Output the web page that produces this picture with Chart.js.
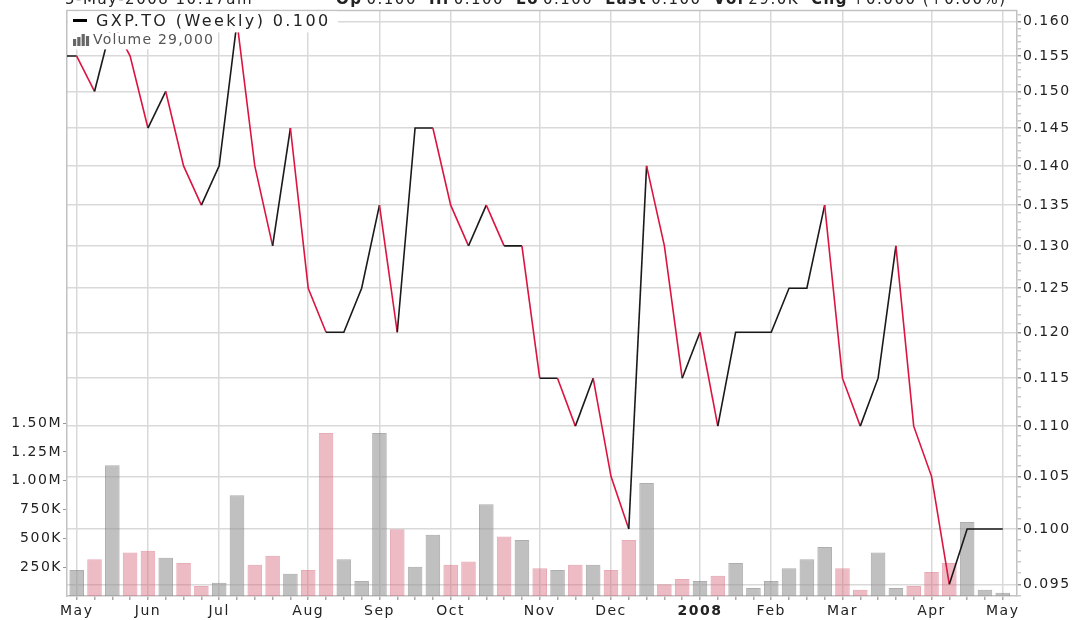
<!DOCTYPE html>
<html>
<head>
<meta charset="utf-8">
<script src="https://cdn.jsdelivr.net/npm/chart.js@4.4.1/dist/chart.umd.min.js"></script>
<style>
html, body { margin: 0; padding: 0; background: #fff; }
</style>
</head>
<body>
<canvas id="GXP" width="1073" height="620"></canvas>
<script>
// weekly bars, GXP.TO, May 2007 - May 2008
var weeks = [
  '2007-05-07','2007-05-14','2007-05-21','2007-05-28','2007-06-04','2007-06-11','2007-06-18','2007-06-25',
  '2007-07-02','2007-07-09','2007-07-16','2007-07-23','2007-07-30','2007-08-06','2007-08-13','2007-08-20',
  '2007-08-27','2007-09-03','2007-09-10','2007-09-17','2007-09-24','2007-10-01','2007-10-08','2007-10-15',
  '2007-10-22','2007-10-29','2007-11-05','2007-11-12','2007-11-19','2007-11-26','2007-12-03','2007-12-10',
  '2007-12-17','2007-12-24','2007-12-31','2008-01-07','2008-01-14','2008-01-21','2008-01-28','2008-02-04',
  '2008-02-11','2008-02-18','2008-02-25','2008-03-03','2008-03-10','2008-03-17','2008-03-24','2008-03-31',
  '2008-04-07','2008-04-14','2008-04-21','2008-04-28','2008-05-05'
];
var closes = [
  0.155, 0.150, 0.160, 0.155, 0.145, 0.150, 0.140, 0.135, 0.140, 0.160,
  0.140, 0.130, 0.145, 0.125, 0.120, 0.120, 0.125, 0.135, 0.120, 0.145,
  0.145, 0.135, 0.130, 0.135, 0.130, 0.130, 0.115, 0.115, 0.110, 0.115,
  0.105, 0.100, 0.140, 0.130, 0.115, 0.120, 0.110, 0.120, 0.120, 0.120,
  0.125, 0.125, 0.135, 0.115, 0.110, 0.115, 0.130, 0.110, 0.105, 0.095,
  0.100, 0.100, 0.100
];
var volumes = [
  225000, 318000, 1134000, 378000, 392000, 332000, 286000, 87000, 115000, 874000,
  271000, 349000, 193000, 225000, 1414000, 318000, 130000, 1414000, 580000, 254000,
  531000, 271000, 300000, 797000, 517000, 485000, 240000, 225000, 271000, 271000,
  225000, 485000, 981000, 101000, 147000, 130000, 176000, 286000, 69000, 130000,
  240000, 318000, 424000, 240000, 55000, 378000, 69000, 87000, 208000, 286000,
  641000, 55000, 29000
];
var priorClose = 0.155;

var monthLabels = ['May','Jun','Jul','Aug','Sep','Oct','Nov','Dec','2008','Feb','Mar','Apr','May'];
var priceTicks = [0.095,0.100,0.105,0.110,0.115,0.120,0.125,0.130,0.135,0.140,0.145,0.150,0.155,0.160];
var volTicks = [250000, 500000, 750000, 1000000, 1250000, 1500000];
var volTickLabels = ['250K','500K','750K','1.00M','1.25M','1.50M'];

var header = '5-May-2008 10:17am';
var quote = [['Op','0.100'],['Hi','0.100'],['Lo','0.100'],['Last','0.100'],['Vol','29.0K'],['Chg','+0.000 (+0.00%)']];
var legendPrice = 'GXP.TO (Weekly) 0.100';
var legendVol = 'Volume 29,000';

// first week of each month gets a label
var monthAt = {};
var m = 0;
weeks.forEach(function(w, i) {
  if (i === 0 || w.slice(0, 7) !== weeks[i - 1].slice(0, 7)) {
    monthAt[i] = monthLabels[m];
    m++;
  }
});

var gridColor = '#d9d9d9';
var edgeColor = '#c2c2c2';
var upLine = '#1a1a1a', downLine = '#dc1440';

var barFill = [], barEdge = [];
closes.forEach(function(c, i) {
  var prev = i === 0 ? priorClose : closes[i - 1];
  if (c < prev) {
    barFill.push('rgba(214,104,124,0.45)');
    barEdge.push('rgba(214,104,124,0.55)');
  } else {
    barFill.push('rgba(150,150,150,0.6)');
    barEdge.push('rgba(120,120,120,0.6)');
  }
});

var linePts = [{x: -1, y: priorClose}].concat(closes.map(function(c, i) { return {x: i, y: c}; }));
var volPts = volumes.map(function(v, i) { return {x: i, y: v}; });

Chart.defaults.font.family = 'DejaVu Sans';
Chart.defaults.font.size = 14;
Chart.defaults.color = '#222';

var spacing = {
  id: 'spacing',
  beforeUpdate: function(c) { c.ctx.letterSpacing = '1.5px'; },
  beforeDraw: function(c) { c.ctx.letterSpacing = '1.5px'; }
};

var frame = {
  id: 'frame',
  afterDatasetsDraw: function(chart) {
    var ctx = chart.ctx, a = chart.chartArea;
    ctx.save();
    // top border
    ctx.strokeStyle = edgeColor;
    ctx.lineWidth = 1.5;
    ctx.beginPath();
    ctx.moveTo(a.left, a.top);
    ctx.lineTo(a.right, a.top);
    ctx.stroke();

    // legend rows (white boxes over the plot)
    ctx.fillStyle = '#fff';
    ctx.fillRect(a.left + 1, a.top + 1, 270, 21);
    ctx.fillRect(a.left + 1, a.top + 22, 143, 17);

    ctx.strokeStyle = '#000';
    ctx.lineWidth = 3;
    ctx.beginPath();
    ctx.moveTo(73, 20.5);
    ctx.lineTo(87, 20.5);
    ctx.stroke();

    ctx.textBaseline = 'middle';
    ctx.textAlign = 'left';
    ctx.letterSpacing = '2.4px';
    ctx.font = '16px "DejaVu Sans"';
    ctx.fillStyle = '#222';
    ctx.fillText(legendPrice, 96, 21.5);

    ctx.fillStyle = '#666';
    [7, 9, 12, 10].forEach(function(h, k) {
      ctx.fillRect(73 + k * 4.3, 46 - h, 3.2, h);
    });
    ctx.letterSpacing = '1.2px';
    ctx.font = '14px "DejaVu Sans"';
    ctx.fillStyle = '#555';
    ctx.fillText(legendVol, 93, 40);
    ctx.restore();
  },
  afterDraw: function(chart) {
    var ctx = chart.ctx;
    ctx.save();
    ctx.textBaseline = 'alphabetic';
    ctx.textAlign = 'left';
    ctx.letterSpacing = '1.5px';
    ctx.fillStyle = '#222';
    ctx.font = '15px "DejaVu Sans"';
    ctx.fillText(header, 65, 4);
    var x = 336;
    quote.forEach(function(q) {
      ctx.font = 'bold 15px "DejaVu Sans"';
      ctx.fillText(q[0], x, 4);
      x += ctx.measureText(q[0]).width + 4;
      ctx.font = '15px "DejaVu Sans"';
      ctx.fillText(q[1], x, 4);
      x += ctx.measureText(q[1]).width + 12;
    });
    ctx.restore();
  }
};

new Chart(document.getElementById('GXP'), {
  type: 'bar',
  data: {
    datasets: [{
      type: 'line',
      label: 'GXP.TO',
      data: linePts,
      yAxisID: 'price',
      borderWidth: 1.6,
      pointRadius: 0,
      tension: 0,
      order: 1,
      segment: {
        borderColor: function(ctx) { return ctx.p1.parsed.y < ctx.p0.parsed.y ? downLine : upLine; }
      }
    }, {
      type: 'bar',
      label: 'Volume',
      data: volPts,
      yAxisID: 'vol',
      backgroundColor: barFill,
      borderColor: barEdge,
      borderWidth: 1,
      barPercentage: 0.82,
      categoryPercentage: 1,
      order: 2
    }]
  },
  options: {
    responsive: false,
    animation: false,
    layout: { padding: { top: 9, left: 0, right: 0, bottom: 0 } },
    plugins: {
      legend: { display: false },
      tooltip: { enabled: false }
    },
    scales: {
      x: {
        type: 'linear',
        position: 'bottom',
        offset: false,
        min: -0.545,
        max: 52.8,
        afterBuildTicks: function(s) {
          s.ticks = weeks.map(function(w, i) { return {value: i}; });
        },
        afterFit: function(s) { s.height = 24; },
        ticks: {
          autoSkip: false,
          maxRotation: 0,
          padding: 3,
          callback: function(v) { return monthAt[v] || ''; },
          font: function(ctx) {
            return ctx.tick && monthAt[ctx.tick.value] === '2008'
              ? {size: 14, weight: 'bold'} : {size: 14};
          }
        },
        grid: {
          offset: false,
          lineWidth: 1.5,
          tickLength: 4,
          color: function(ctx) { return ctx.tick && monthAt[ctx.tick.value] ? gridColor : 'rgba(0,0,0,0)'; },
          tickColor: '#aaa'
        },
        border: { color: edgeColor, width: 1.5 }
      },
      price: {
        type: 'logarithmic',
        position: 'right',
        min: 0.09398,
        max: 0.1617,
        afterBuildTicks: function(s) {
          var t = [];
          for (var k = 94; k <= 161; k++) t.push({value: k / 1000});
          s.ticks = t;
        },
        afterFit: function(s) { s.width = 56; },
        ticks: {
          autoSkip: false,
          padding: 2,
          callback: function(v) {
            return priceTicks.indexOf(Math.round(v * 1000) / 1000) >= 0 ? v.toFixed(3) : '';
          }
        },
        grid: {
          lineWidth: 1.5,
          tickLength: 4,
          color: function(ctx) {
            return ctx.tick && Math.round(ctx.tick.value * 1000) % 5 === 0 ? gridColor : 'rgba(0,0,0,0)';
          },
          tickColor: function(ctx) {
            return ctx.tick && Math.round(ctx.tick.value * 1000) % 5 === 0 ? '#999' : '#c8c8c8';
          }
        },
        border: { color: edgeColor, width: 1.5 }
      },
      vol: {
        type: 'linear',
        position: 'left',
        min: 0,
        max: 5080000,
        afterBuildTicks: function(s) {
          s.ticks = volTicks.map(function(v) { return {value: v}; });
        },
        afterFit: function(s) { s.width = 67; },
        ticks: {
          autoSkip: false,
          padding: 1,
          callback: function(v, i) { return volTickLabels[i]; }
        },
        grid: {
          drawOnChartArea: false,
          tickLength: 4,
          tickColor: '#999'
        },
        border: { color: edgeColor, width: 1.5 }
      }
    }
  },
  plugins: [spacing, frame]
});
</script>
</body>
</html>
